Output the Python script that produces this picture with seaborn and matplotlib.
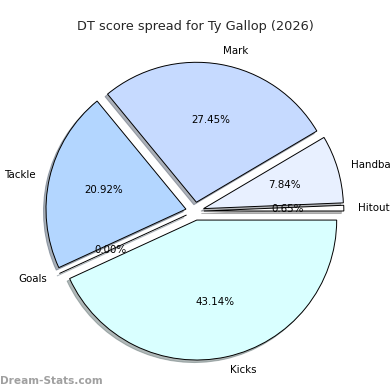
import matplotlib
matplotlib.use("Agg")
import matplotlib.pyplot as plt
import seaborn as sns

# DT points per stat, Ty Gallop 2026
stats = ["Hitout", "Handball", "Mark", "Tackle", "Goals", "Kicks"]
points = [1, 12, 42, 32, 0, 66]
colors = ["#ffffff", "#e8f0ff", "#c6daff", "#b3d6ff", "#c0e8ff", "#d9ffff"]
explode = [0.065, 0.065, 0.065, 0.065, 0.065, 0.065]

sns.set_theme(style="white")
plt.rcParams['font.family'] = ['DejaVu Sans']

fig = plt.figure(figsize=(3.9, 3.9), dpi=100)
ax = fig.add_axes([0.051, 0.010, 0.897, 0.897])

ax.pie(points, labels=stats, colors=colors, explode=explode,
       autopct="%1.2f%%", startangle=0,
       shadow={"ox": -0.013, "oy": -0.013, "shade": 0.55},
       wedgeprops={"edgecolor": "black", "linewidth": 0.7},
       textprops={"fontsize": 7.4, "color": "black"})
ax.set_aspect("equal")

fig.text(0.5, 0.932, "DT score spread for Ty Gallop (2026)",
         ha="center", va="center", fontsize=9.3)
fig.text(0.0, 0.023, "Dream-Stats.com", ha="left", va="center",
         fontsize=7.6, fontweight="bold", color="#a0a0a0")

fig.savefig("out.png", dpi=100)
